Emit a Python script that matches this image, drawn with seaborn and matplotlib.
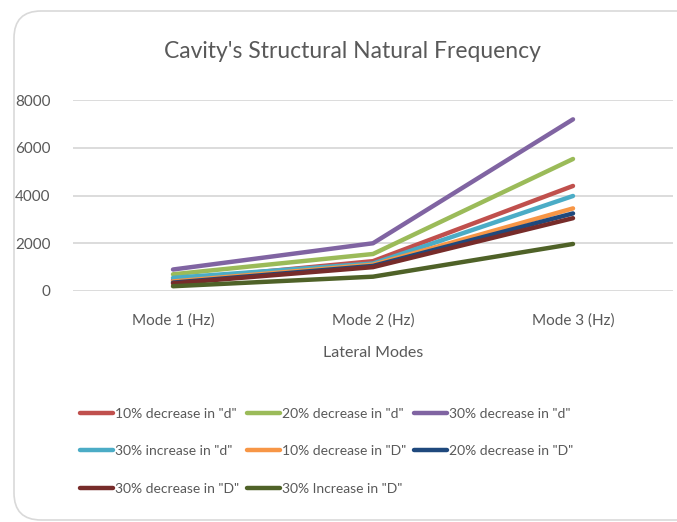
import matplotlib
matplotlib.use("Agg")
import matplotlib.pyplot as plt
import seaborn as sns
import pandas as pd
from matplotlib.patches import FancyBboxPatch

modes = ["Mode 1 (Hz)", "Mode 2 (Hz)", "Mode 3 (Hz)"]
series_names = ['10% decrease in "d"', '20% decrease in "d"', '30% decrease in "d"',
                '30% increase in "d"', '10% decrease in "D"', '20% decrease in "D"',
                '30% decrease in "D"', '30% Increase in "D"']
dec10_d = [450, 1250, 4400]
dec20_d = [700, 1550, 5530]
dec30_d = [900, 2000, 7190]
inc30_d = [550, 1150, 3980]
dec10_D = [400, 1100, 3460]
dec20_D = [350, 1050, 3250]
dec30_D = [320, 1000, 3050]
inc30_D = [200, 600, 1970]
colors = ["#C0504D", "#9BBB59", "#8064A2", "#4BACC6", "#F79646", "#1F497D", "#772C2A", "#4F6228"]

values = [dec10_d, dec20_d, dec30_d, inc30_d, dec10_D, dec20_D, dec30_D, inc30_D]
rows = []
for name, vals in zip(series_names, values):
    for m, v in zip(modes, vals):
        rows.append({"Mode": m, "Series": name, "Value": v})
df = pd.DataFrame(rows)

sns.set_style("white")
plt.rcParams['font.family'] = ['Lato', 'DejaVu Sans']

W, H = 677, 522
fig = plt.figure(figsize=(W / 100, H / 100), dpi=100)

# chart border
border = FancyBboxPatch((14 / W, 2 / H), 700 / W, 509 / H,
                        boxstyle="round,pad=0,rounding_size=0.04",
                        transform=fig.transFigure, fill=False,
                        edgecolor="#D9D9D9", linewidth=1.2, mutation_aspect=W / H)
fig.patches.append(border)

ax = fig.add_axes([73 / W, 1 - 291 / H, 600 / W, (291 - 100) / H])
sns.lineplot(data=df, x="Mode", y="Value", hue="Series", palette=colors,
             hue_order=series_names, sort=False, linewidth=3.2, ax=ax, legend=True)

ax.set_xlim(-0.5, 2.5)
ax.set_ylim(0, 8000)
ax.set_yticks([0, 2000, 4000, 6000, 8000])
ax.yaxis.grid(True, color="#D9D9D9", linewidth=1.3)
ax.xaxis.grid(False)
for s in ax.spines.values():
    s.set_visible(False)
ax.tick_params(axis="both", length=0, labelsize=11, labelcolor="#595959")
ax.tick_params(axis="x", pad=16)
ax.tick_params(axis="y", pad=16)
ax.set_ylabel("")
ax.set_xlabel("Lateral Modes", fontsize=11.5, color="#595959", labelpad=13)

fig.text(352 / W, 1 - 52 / H, "Cavity's Structural Natural Frequency",
         ha="center", va="center", fontsize=16.5, color="#595959")

handles, labels = ax.get_legend_handles_labels()
ax.legend_.remove()
# reorder for row-major 3-column layout
order = [0, 3, 6, 1, 4, 7, 2, 5]
leg = fig.legend([handles[i] for i in order], [labels[i] for i in order],
                 ncol=3, loc="upper left", bbox_to_anchor=(74 / W, 1 - 402 / H),
                 frameon=False, fontsize=10, handlelength=2.4, handletextpad=0.15,
                 columnspacing=0.55, labelspacing=1.85, borderaxespad=0)
for t in leg.get_texts():
    t.set_color("#595959")
for l in leg.get_lines():
    l.set_linewidth(3.2)

fig.savefig("out.png", dpi=100)
